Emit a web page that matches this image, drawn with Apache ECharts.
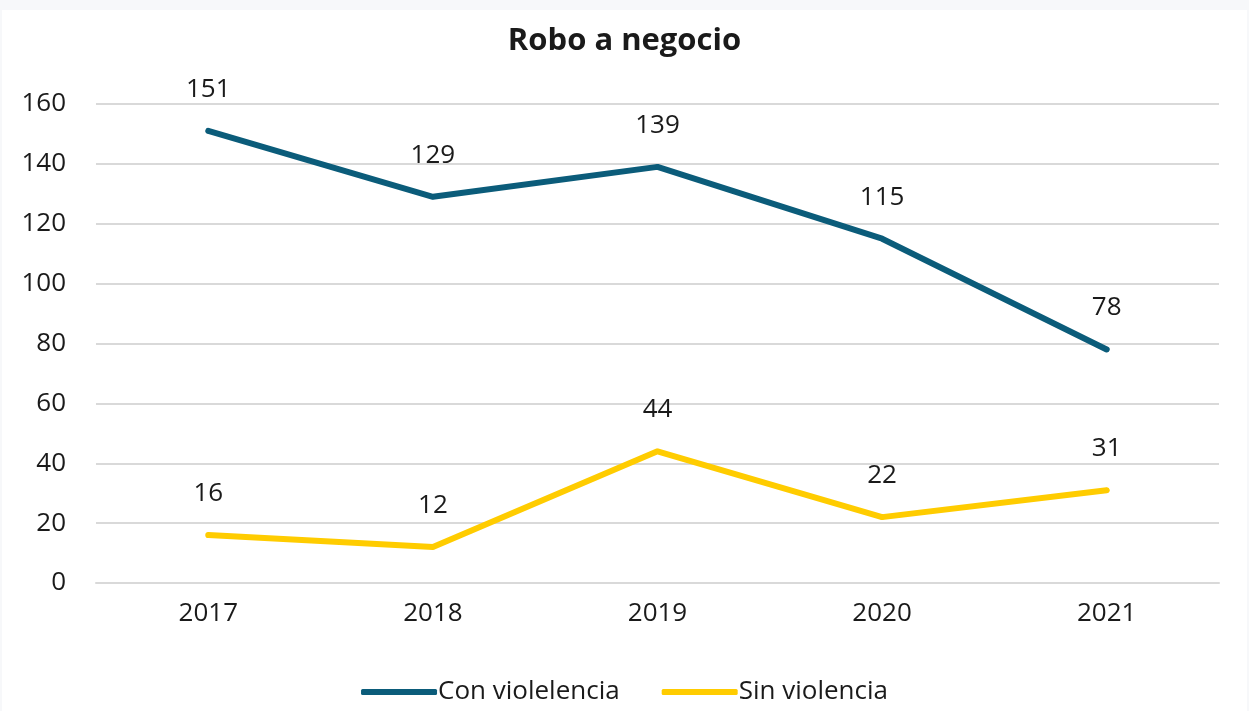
<!DOCTYPE html>
<html>
<head>
<meta charset="utf-8">
<script src="https://cdn.jsdelivr.net/npm/echarts@6/dist/echarts.min.js"></script>
<style>
  html, body { margin: 0; padding: 0; background: #f7f8fa; }
  #chart { position: absolute; left: 2px; top: 10px; width: 1245px; height: 701px; background: #ffffff; }
</style>
</head>
<body>
<div id="chart"></div>
<script>
// Robo a negocio, 2017-2021
const years = ['2017', '2018', '2019', '2020', '2021']
const conViolencia = [151, 129, 139, 115, 78]
const sinViolencia = [16, 12, 44, 22, 31]

const chart = echarts.init(document.getElementById('chart'))
const font = '"Open Sans", "Noto Sans", sans-serif'

const labelStyle = {
  show: true,
  position: 'top',
  distance: 26,
  fontSize: 26,
  color: '#1a1a1a',
  fontFamily: font
}

chart.setOption({
  animation: false,
  title: {
    text: 'Robo a negocio',
    left: 'center',
    top: 11,
    textStyle: { fontSize: 31, fontWeight: 'bold', color: '#1a1a1a', fontFamily: font }
  },
  grid: { left: 94, right: 28, top: 94, bottom: 128 },
  xAxis: {
    type: 'category',
    data: years,
    boundaryGap: true,
    axisLine: { lineStyle: { color: '#d9d9d9', width: 2 } },
    axisTick: { show: false },
    axisLabel: { fontSize: 26, color: '#1a1a1a', margin: 18, fontFamily: font }
  },
  yAxis: {
    type: 'value',
    min: 0,
    max: 160,
    interval: 20,
    axisLine: { show: false },
    axisTick: { show: false },
    axisLabel: { fontSize: 26, color: '#1a1a1a', margin: 30, fontFamily: font },
    splitLine: { lineStyle: { color: '#d9d9d9', width: 2 } }
  },
  legend: {
    bottom: 1,
    left: 'center',
    itemWidth: 76,
    itemHeight: 6,
    itemGap: 42,
    icon: 'roundRect',
    textStyle: { fontSize: 26, color: '#1a1a1a', fontFamily: font, padding: [0, 0, 0, -4] },
    data: ['Con violelencia', 'Sin violencia']
  },
  series: [
    {
      name: 'Con violelencia',
      type: 'line',
      data: conViolencia,
      symbol: 'circle',
      symbolSize: 5,
      itemStyle: { color: '#0b5c7a' },
      lineStyle: { width: 6, color: '#0b5c7a', cap: 'round' },
      label: labelStyle
    },
    {
      name: 'Sin violencia',
      type: 'line',
      data: sinViolencia,
      symbol: 'circle',
      symbolSize: 5,
      itemStyle: { color: '#ffcc00' },
      lineStyle: { width: 6, color: '#ffcc00', cap: 'round' },
      label: labelStyle
    }
  ]
})
</script>
</body>
</html>
